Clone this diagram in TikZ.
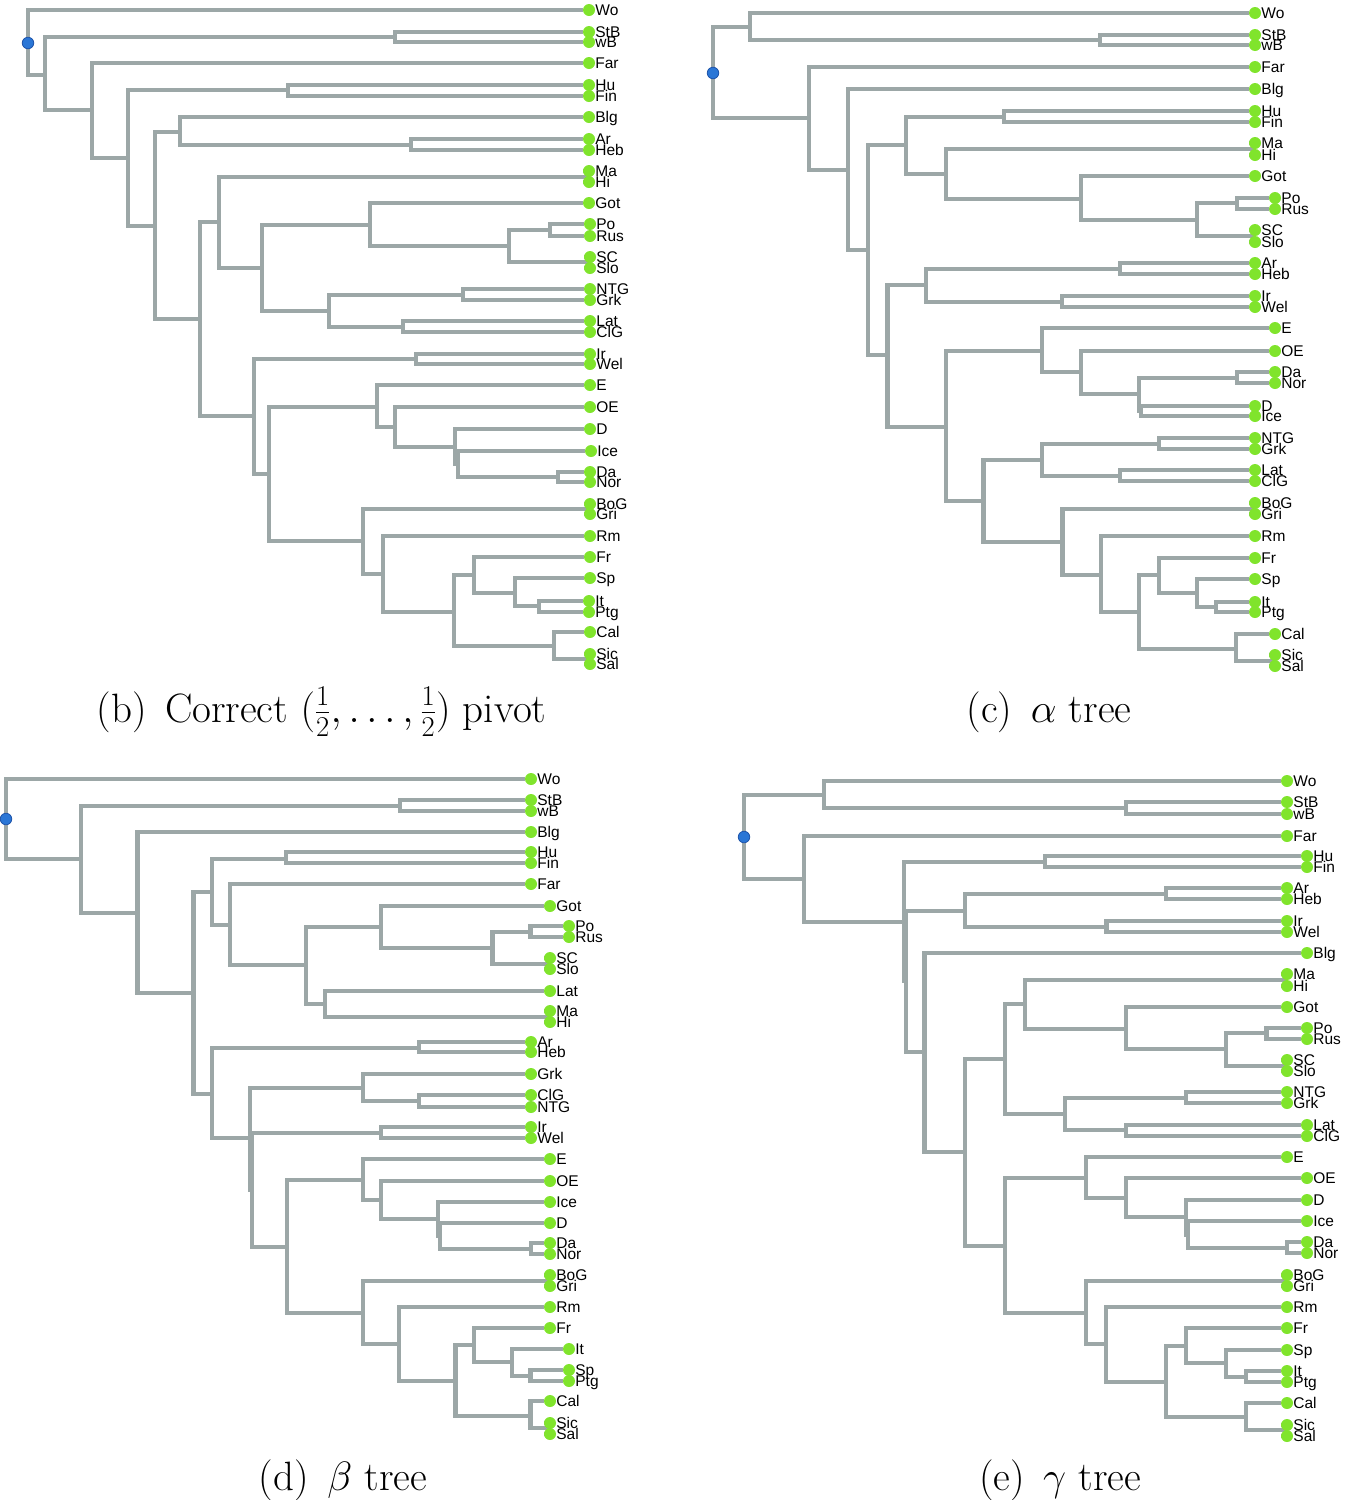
\RequirePackage{fix-cm}
\documentclass[tikz,border=0pt]{standalone}
\usepackage{fontspec}
\newfontfamily\labfont{Liberation Sans}
\pgfdeclarelayer{bg}
\pgfsetlayers{bg,main}
\definecolor{edgegray}{RGB}{156,167,167}
\definecolor{leafgreen}{RGB}{128,228,44}
\definecolor{rootblue}{RGB}{42,118,214}
\definecolor{rootedge}{RGB}{30,84,170}
\tikzset{
 tkedge/.style={draw=edgegray, line width=4.2pt},
 leafdot/.style={circle, fill=leafgreen, inner sep=0pt, minimum size=12pt, label distance=2.6pt},
 rootdot/.style={circle, fill=rootblue, draw=rootedge, line width=0.8pt, inner sep=0pt, minimum size=11.5pt},
 lab/.style={font=\labfont\fontsize{15.5}{15.5}\selectfont, inner sep=0pt, text height=11.1pt, text depth=0pt},
 captext/.style={font=\fontsize{41}{48}\selectfont, anchor=base, inner sep=0pt},
}
\newcommand\tkleaf[4]{\node[leafdot, label={[lab]right:#4}] (#1) at (#2,#3) {};}
\newcommand\tkedges[2]{\foreach \tkc in {#2}{\draw[tkedge] (#1) |- (\tkc);}}
\begin{document}
\begin{tikzpicture}[x=1pt,y=-1pt]
\useasboundingbox (0,0) rectangle (1346,1500);
% ================= tree (b) =================
\tkleaf{b-Wo}{589}{10}{Wo}
\tkleaf{b-StB}{589}{32}{StB}
\tkleaf{b-wB}{589}{42}{wB}
\tkleaf{b-Far}{589}{63}{Far}
\tkleaf{b-Hu}{589}{85}{Hu}
\tkleaf{b-Fin}{589}{96}{Fin}
\tkleaf{b-Blg}{589}{117}{Blg}
\tkleaf{b-Ar}{589}{139}{Ar}
\tkleaf{b-Heb}{589}{150}{Heb}
\tkleaf{b-Ma}{589}{171}{Ma}
\tkleaf{b-Hi}{589}{182}{Hi}
\tkleaf{b-Got}{589}{203}{Got}
\tkleaf{b-Po}{590}{224}{Po}
\tkleaf{b-Rus}{590}{236}{Rus}
\tkleaf{b-SC}{590}{257}{SC}
\tkleaf{b-Slo}{590}{268}{Slo}
\tkleaf{b-NTG}{590}{289}{NTG}
\tkleaf{b-Grk}{590}{300}{Grk}
\tkleaf{b-Lat}{590}{321}{Lat}
\tkleaf{b-ClG}{590}{332}{ClG}
\tkleaf{b-Ir}{590}{354}{Ir}
\tkleaf{b-Wel}{590}{364}{Wel}
\tkleaf{b-E}{590}{385}{E}
\tkleaf{b-OE}{590}{407}{OE}
\tkleaf{b-D}{590}{429}{D}
\tkleaf{b-Ice}{591}{451}{Ice}
\tkleaf{b-Da}{590}{472}{Da}
\tkleaf{b-Nor}{590}{482}{Nor}
\tkleaf{b-BoG}{590}{504}{BoG}
\tkleaf{b-Gri}{590}{514}{Gri}
\tkleaf{b-Rm}{590}{536}{Rm}
\tkleaf{b-Fr}{590}{557}{Fr}
\tkleaf{b-Sp}{590}{578}{Sp}
\tkleaf{b-It}{589}{601}{It}
\tkleaf{b-Ptg}{589}{612}{Ptg}
\tkleaf{b-Cal}{590}{632}{Cal}
\tkleaf{b-Sic}{590}{654}{Sic}
\tkleaf{b-Sal}{590}{664}{Sal}
\node[rootdot] (b-root) at (28,43) {};
\coordinate (b-iA) at (45,75);
\coordinate (b-iStBwB) at (395,37);
\coordinate (b-iB) at (92,110);
\coordinate (b-iC) at (128,158);
\coordinate (b-iHuFin) at (288,90);
\coordinate (b-iD) at (155,226);
\coordinate (b-iE) at (180,132);
\coordinate (b-iArHeb) at (411,145);
\coordinate (b-iF) at (200,319);
\coordinate (b-iG) at (219,222);
\coordinate (b-iMaHi) at (587,177);
\coordinate (b-iI) at (262,268);
\coordinate (b-iJ) at (370,225);
\coordinate (b-iL) at (509,246);
\coordinate (b-iPoRus) at (550,230);
\coordinate (b-iSCSlo) at (588,262);
\coordinate (b-iK) at (329,311);
\coordinate (b-iNTGGrk) at (463,295);
\coordinate (b-iLatClG) at (403,327);
\coordinate (b-iH) at (254,416);
\coordinate (b-iIrWel) at (416,359);
\coordinate (b-iM) at (269,474);
\coordinate (b-iN) at (377,407);
\coordinate (b-iP) at (395,427);
\coordinate (b-iQ1) at (455,447);
\coordinate (b-iQ2) at (458,464);
\coordinate (b-iDaNor) at (558,477);
\coordinate (b-iO) at (363,541);
\coordinate (b-iBoGGri) at (587,509);
\coordinate (b-iR) at (383,574);
\coordinate (b-iS) at (454,612);
\coordinate (b-iT) at (474,575);
\coordinate (b-iV) at (515,593);
\coordinate (b-iItPtg) at (539,606);
\coordinate (b-iU) at (554,646);
\coordinate (b-iSicSal) at (587,659);
% ================= tree (c) =================
\tkleaf{c-Wo}{1255}{13}{Wo}
\tkleaf{c-StB}{1255}{35}{StB}
\tkleaf{c-wB}{1255}{45}{wB}
\tkleaf{c-Far}{1255}{67}{Far}
\tkleaf{c-Blg}{1255}{89}{Blg}
\tkleaf{c-Hu}{1255}{111}{Hu}
\tkleaf{c-Fin}{1255}{122}{Fin}
\tkleaf{c-Ma}{1255}{143}{Ma}
\tkleaf{c-Hi}{1255}{155}{Hi}
\tkleaf{c-Got}{1255}{176}{Got}
\tkleaf{c-Po}{1275}{198}{Po}
\tkleaf{c-Rus}{1275}{209}{Rus}
\tkleaf{c-SC}{1255}{230}{SC}
\tkleaf{c-Slo}{1255}{242}{Slo}
\tkleaf{c-Ar}{1255}{263}{Ar}
\tkleaf{c-Heb}{1255}{274}{Heb}
\tkleaf{c-Ir}{1255}{296}{Ir}
\tkleaf{c-Wel}{1255}{307}{Wel}
\tkleaf{c-E}{1275}{328}{E}
\tkleaf{c-OE}{1275}{351}{OE}
\tkleaf{c-Da}{1275}{372}{Da}
\tkleaf{c-Nor}{1275}{383}{Nor}
\tkleaf{c-D}{1255}{406}{D}
\tkleaf{c-Ice}{1255}{416}{Ice}
\tkleaf{c-NTG}{1255}{438}{NTG}
\tkleaf{c-Grk}{1255}{449}{Grk}
\tkleaf{c-Lat}{1255}{470}{Lat}
\tkleaf{c-ClG}{1255}{481}{ClG}
\tkleaf{c-BoG}{1255}{503}{BoG}
\tkleaf{c-Gri}{1255}{514}{Gri}
\tkleaf{c-Rm}{1255}{536}{Rm}
\tkleaf{c-Fr}{1255}{558}{Fr}
\tkleaf{c-Sp}{1255}{579}{Sp}
\tkleaf{c-It}{1255}{602}{It}
\tkleaf{c-Ptg}{1255}{612}{Ptg}
\tkleaf{c-Cal}{1275}{634}{Cal}
\tkleaf{c-Sic}{1275}{655}{Sic}
\tkleaf{c-Sal}{1275}{666}{Sal}
\node[rootdot] (c-root) at (713,73) {};
\coordinate (c-iA) at (750,27);
\coordinate (c-iStBwB) at (1100,40);
\coordinate (c-iB) at (809,118);
\coordinate (c-iC) at (848,170);
\coordinate (c-iD) at (868,250);
\coordinate (c-iE) at (906,145);
\coordinate (c-iHuFin) at (1004,117);
\coordinate (c-iG) at (946,174);
\coordinate (c-iMaHi) at (1253,149);
\coordinate (c-iH) at (1081,199);
\coordinate (c-iI) at (1197,220);
\coordinate (c-iPoRus) at (1237,203);
\coordinate (c-iSCSlo) at (1253,236);
\coordinate (c-iF) at (887.5,355);
\coordinate (c-iJ) at (926,285);
\coordinate (c-iArHeb) at (1120,269);
\coordinate (c-iIrWel) at (1062,302);
\coordinate (c-iK) at (946,427);
\coordinate (c-iL) at (1042,351);
\coordinate (c-iN) at (1081,372);
\coordinate (c-iO) at (1139,394);
\coordinate (c-iDaNor) at (1237,378);
\coordinate (c-iDIce) at (1141,411);
\coordinate (c-iM) at (983.5,501);
\coordinate (c-iP) at (1042,460);
\coordinate (c-iNTGGrk) at (1158.6,444);
\coordinate (c-iLatClG) at (1120,476);
\coordinate (c-iQ) at (1062.5,542);
\coordinate (c-iBoGGri) at (1253,509);
\coordinate (c-iR) at (1101,575);
\coordinate (c-iS) at (1139,612);
\coordinate (c-iT) at (1158.6,575);
\coordinate (c-iV) at (1197,593);
\coordinate (c-iItPtg) at (1216,607);
\coordinate (c-iU) at (1235.6,649);
\coordinate (c-iSicSal) at (1273,661);
% ================= tree (d) =================
\tkleaf{d-Wo}{531}{779}{Wo}
\tkleaf{d-StB}{531}{800}{StB}
\tkleaf{d-wB}{531}{811}{wB}
\tkleaf{d-Blg}{531}{832}{Blg}
\tkleaf{d-Hu}{531}{852}{Hu}
\tkleaf{d-Fin}{531}{863}{Fin}
\tkleaf{d-Far}{531}{884}{Far}
\tkleaf{d-Got}{550}{906}{Got}
\tkleaf{d-Po}{569}{926}{Po}
\tkleaf{d-Rus}{569}{937}{Rus}
\tkleaf{d-SC}{550}{958}{SC}
\tkleaf{d-Slo}{550}{969}{Slo}
\tkleaf{d-Lat}{550}{991}{Lat}
\tkleaf{d-Ma}{550}{1011}{Ma}
\tkleaf{d-Hi}{550}{1022}{Hi}
\tkleaf{d-Ar}{531}{1042}{Ar}
\tkleaf{d-Heb}{531}{1052}{Heb}
\tkleaf{d-Grk}{531}{1074}{Grk}
\tkleaf{d-ClG}{531}{1095}{ClG}
\tkleaf{d-NTG}{531}{1107}{NTG}
\tkleaf{d-Ir}{531}{1127}{Ir}
\tkleaf{d-Wel}{531}{1138}{Wel}
\tkleaf{d-E}{550}{1159}{E}
\tkleaf{d-OE}{550}{1181}{OE}
\tkleaf{d-Ice}{550}{1202}{Ice}
\tkleaf{d-D}{550}{1223}{D}
\tkleaf{d-Da}{550}{1243}{Da}
\tkleaf{d-Nor}{550}{1254}{Nor}
\tkleaf{d-BoG}{550}{1275}{BoG}
\tkleaf{d-Gri}{550}{1286}{Gri}
\tkleaf{d-Rm}{550}{1307}{Rm}
\tkleaf{d-Fr}{550}{1328}{Fr}
\tkleaf{d-It}{569}{1349}{It}
\tkleaf{d-Sp}{569}{1370}{Sp}
\tkleaf{d-Ptg}{569}{1381}{Ptg}
\tkleaf{d-Cal}{550}{1401}{Cal}
\tkleaf{d-Sic}{550}{1423}{Sic}
\tkleaf{d-Sal}{550}{1434}{Sal}
\node[rootdot] (d-root) at (6,819) {};
\coordinate (d-iA) at (81,859);
\coordinate (d-iStBwB) at (400,806);
\coordinate (d-iB) at (137.5,913);
\coordinate (d-iC) at (193.5,993);
\coordinate (d-iD) at (212,892);
\coordinate (d-iHuFin) at (286,859);
\coordinate (d-iF) at (230,925);
\coordinate (d-iG) at (306,965);
\coordinate (d-iH) at (381,927);
\coordinate (d-iJ) at (492.5,948);
\coordinate (d-iPoRus) at (530.5,932);
\coordinate (d-iSCSlo) at (548,964);
\coordinate (d-iI) at (325,1004);
\coordinate (d-iMaHi) at (548,1017);
\coordinate (d-iE) at (212,1094);
\coordinate (d-iArHeb) at (418.7,1048);
\coordinate (d-iK1) at (249.6,1138);
\coordinate (d-iL) at (362.6,1088);
\coordinate (d-iClGNTG) at (418.7,1101);
\coordinate (d-iK2) at (252,1190);
\coordinate (d-iIrWel) at (381,1133);
\coordinate (d-iM) at (287,1247);
\coordinate (d-iN) at (362.6,1180);
\coordinate (d-iP) at (381,1200);
\coordinate (d-iQ1) at (437.7,1219);
\coordinate (d-iQ2) at (440,1236);
\coordinate (d-iDaNor) at (531,1249);
\coordinate (d-iO) at (362.6,1313);
\coordinate (d-iBoGGri) at (548,1281);
\coordinate (d-iR) at (399,1344);
\coordinate (d-iS) at (455.4,1381);
\coordinate (d-iT) at (474,1345);
\coordinate (d-iV) at (512,1362);
\coordinate (d-iSpPtg) at (530.5,1376);
\coordinate (d-iU) at (530.5,1416);
\coordinate (d-iSicSal) at (548,1428);
% ================= tree (e) =================
\tkleaf{e-Wo}{1287}{781}{Wo}
\tkleaf{e-StB}{1287}{802}{StB}
\tkleaf{e-wB}{1287}{814}{wB}
\tkleaf{e-Far}{1287}{836}{Far}
\tkleaf{e-Hu}{1307}{856}{Hu}
\tkleaf{e-Fin}{1307}{867}{Fin}
\tkleaf{e-Ar}{1287}{888}{Ar}
\tkleaf{e-Heb}{1287}{899}{Heb}
\tkleaf{e-Ir}{1287}{921}{Ir}
\tkleaf{e-Wel}{1287}{932}{Wel}
\tkleaf{e-Blg}{1307}{953}{Blg}
\tkleaf{e-Ma}{1287}{974}{Ma}
\tkleaf{e-Hi}{1287}{986}{Hi}
\tkleaf{e-Got}{1287}{1007}{Got}
\tkleaf{e-Po}{1307}{1028}{Po}
\tkleaf{e-Rus}{1307}{1039}{Rus}
\tkleaf{e-SC}{1287}{1060}{SC}
\tkleaf{e-Slo}{1287}{1071}{Slo}
\tkleaf{e-NTG}{1287}{1092}{NTG}
\tkleaf{e-Grk}{1287}{1103}{Grk}
\tkleaf{e-Lat}{1307}{1125}{Lat}
\tkleaf{e-ClG}{1307}{1136}{ClG}
\tkleaf{e-E}{1287}{1157}{E}
\tkleaf{e-OE}{1307}{1178}{OE}
\tkleaf{e-D}{1307}{1200}{D}
\tkleaf{e-Ice}{1307}{1221}{Ice}
\tkleaf{e-Da}{1307}{1242}{Da}
\tkleaf{e-Nor}{1307}{1253}{Nor}
\tkleaf{e-BoG}{1287}{1275}{BoG}
\tkleaf{e-Gri}{1287}{1286}{Gri}
\tkleaf{e-Rm}{1287}{1307}{Rm}
\tkleaf{e-Fr}{1287}{1328}{Fr}
\tkleaf{e-Sp}{1287}{1350}{Sp}
\tkleaf{e-It}{1287}{1371}{It}
\tkleaf{e-Ptg}{1287}{1382}{Ptg}
\tkleaf{e-Cal}{1287}{1403}{Cal}
\tkleaf{e-Sic}{1287}{1425}{Sic}
\tkleaf{e-Sal}{1287}{1436}{Sal}
\node[rootdot] (e-root) at (744,837) {};
\coordinate (e-iA) at (824,795);
\coordinate (e-iStBwB) at (1126,808);
\coordinate (e-iB) at (804,879);
\coordinate (e-iC1) at (904,922);
\coordinate (e-iHuFin) at (1045,862);
\coordinate (e-iC2) at (906,981);
\coordinate (e-iD) at (964.6,911);
\coordinate (e-iArHeb) at (1166,894);
\coordinate (e-iIrWel) at (1106.5,927);
\coordinate (e-iE) at (924.5,1052);
\coordinate (e-iF) at (964.6,1152);
\coordinate (e-iG) at (1005,1059);
\coordinate (e-iI) at (1024.8,1004);
\coordinate (e-iMaHi) at (1285,980);
\coordinate (e-iK) at (1126,1029);
\coordinate (e-iL) at (1226,1049);
\coordinate (e-iPoRus) at (1266.4,1033);
\coordinate (e-iSCSlo) at (1285,1066);
\coordinate (e-iJ) at (1064.8,1114);
\coordinate (e-iNTGGrk) at (1186,1098);
\coordinate (e-iLatClG) at (1126,1130);
\coordinate (e-iH) at (1005,1246);
\coordinate (e-iM) at (1085.7,1178);
\coordinate (e-iO) at (1126,1198);
\coordinate (e-iP1) at (1186,1217);
\coordinate (e-iP2) at (1188,1235);
\coordinate (e-iDaNor) at (1287,1248);
\coordinate (e-iN) at (1085.7,1313);
\coordinate (e-iBoGGri) at (1285,1281);
\coordinate (e-iQ) at (1106,1344);
\coordinate (e-iR) at (1166,1382);
\coordinate (e-iS) at (1186,1346);
\coordinate (e-iU) at (1226,1363);
\coordinate (e-iItPtg) at (1246,1377);
\coordinate (e-iT) at (1246,1417);
\coordinate (e-iSicSal) at (1285,1430);
% ================= connectors =================
\begin{pgfonlayer}{bg}
\tkedges{b-root}{b-Wo,b-iA}
\tkedges{b-iA}{b-iStBwB,b-iB}
\tkedges{b-iStBwB}{b-StB,b-wB}
\tkedges{b-iB}{b-Far,b-iC}
\tkedges{b-iC}{b-iHuFin,b-iD}
\tkedges{b-iHuFin}{b-Hu,b-Fin}
\tkedges{b-iD}{b-iE,b-iF}
\tkedges{b-iE}{b-Blg,b-iArHeb}
\tkedges{b-iArHeb}{b-Ar,b-Heb}
\tkedges{b-iF}{b-iG,b-iH}
\tkedges{b-iG}{b-iMaHi,b-iI}
\tkedges{b-iMaHi}{b-Ma,b-Hi}
\tkedges{b-iI}{b-iJ,b-iK}
\tkedges{b-iJ}{b-Got,b-iL}
\tkedges{b-iL}{b-iPoRus,b-iSCSlo}
\tkedges{b-iPoRus}{b-Po,b-Rus}
\tkedges{b-iSCSlo}{b-SC,b-Slo}
\tkedges{b-iK}{b-iNTGGrk,b-iLatClG}
\tkedges{b-iNTGGrk}{b-NTG,b-Grk}
\tkedges{b-iLatClG}{b-Lat,b-ClG}
\tkedges{b-iH}{b-iIrWel,b-iM}
\tkedges{b-iIrWel}{b-Ir,b-Wel}
\tkedges{b-iM}{b-iN,b-iO}
\tkedges{b-iN}{b-E,b-iP}
\tkedges{b-iP}{b-OE,b-iQ1}
\tkedges{b-iQ1}{b-D,b-iQ2}
\tkedges{b-iQ2}{b-Ice,b-iDaNor}
\tkedges{b-iDaNor}{b-Da,b-Nor}
\tkedges{b-iO}{b-iBoGGri,b-iR}
\tkedges{b-iBoGGri}{b-BoG,b-Gri}
\tkedges{b-iR}{b-Rm,b-iS}
\tkedges{b-iS}{b-iT,b-iU}
\tkedges{b-iT}{b-Fr,b-iV}
\tkedges{b-iV}{b-Sp,b-iItPtg}
\tkedges{b-iItPtg}{b-It,b-Ptg}
\tkedges{b-iU}{b-Cal,b-iSicSal}
\tkedges{b-iSicSal}{b-Sic,b-Sal}
%
\tkedges{c-root}{c-iA,c-iB}
\tkedges{c-iA}{c-Wo,c-iStBwB}
\tkedges{c-iStBwB}{c-StB,c-wB}
\tkedges{c-iB}{c-Far,c-iC}
\tkedges{c-iC}{c-Blg,c-iD}
\tkedges{c-iD}{c-iE,c-iF}
\tkedges{c-iE}{c-iHuFin,c-iG}
\tkedges{c-iHuFin}{c-Hu,c-Fin}
\tkedges{c-iG}{c-iMaHi,c-iH}
\tkedges{c-iMaHi}{c-Ma,c-Hi}
\tkedges{c-iH}{c-Got,c-iI}
\tkedges{c-iI}{c-iPoRus,c-iSCSlo}
\tkedges{c-iPoRus}{c-Po,c-Rus}
\tkedges{c-iSCSlo}{c-SC,c-Slo}
\tkedges{c-iF}{c-iJ,c-iK}
\tkedges{c-iJ}{c-iArHeb,c-iIrWel}
\tkedges{c-iArHeb}{c-Ar,c-Heb}
\tkedges{c-iIrWel}{c-Ir,c-Wel}
\tkedges{c-iK}{c-iL,c-iM}
\tkedges{c-iL}{c-E,c-iN}
\tkedges{c-iN}{c-OE,c-iO}
\tkedges{c-iO}{c-iDaNor,c-iDIce}
\tkedges{c-iDaNor}{c-Da,c-Nor}
\tkedges{c-iDIce}{c-D,c-Ice}
\tkedges{c-iM}{c-iP,c-iQ}
\tkedges{c-iP}{c-iNTGGrk,c-iLatClG}
\tkedges{c-iNTGGrk}{c-NTG,c-Grk}
\tkedges{c-iLatClG}{c-Lat,c-ClG}
\tkedges{c-iQ}{c-iBoGGri,c-iR}
\tkedges{c-iBoGGri}{c-BoG,c-Gri}
\tkedges{c-iR}{c-Rm,c-iS}
\tkedges{c-iS}{c-iT,c-iU}
\tkedges{c-iT}{c-Fr,c-iV}
\tkedges{c-iV}{c-Sp,c-iItPtg}
\tkedges{c-iItPtg}{c-It,c-Ptg}
\tkedges{c-iU}{c-Cal,c-iSicSal}
\tkedges{c-iSicSal}{c-Sic,c-Sal}
%
\tkedges{d-root}{d-Wo,d-iA}
\tkedges{d-iA}{d-iStBwB,d-iB}
\tkedges{d-iStBwB}{d-StB,d-wB}
\tkedges{d-iB}{d-Blg,d-iC}
\tkedges{d-iC}{d-iD,d-iE}
\tkedges{d-iD}{d-iHuFin,d-iF}
\tkedges{d-iHuFin}{d-Hu,d-Fin}
\tkedges{d-iF}{d-Far,d-iG}
\tkedges{d-iG}{d-iH,d-iI}
\tkedges{d-iH}{d-Got,d-iJ}
\tkedges{d-iJ}{d-iPoRus,d-iSCSlo}
\tkedges{d-iPoRus}{d-Po,d-Rus}
\tkedges{d-iSCSlo}{d-SC,d-Slo}
\tkedges{d-iI}{d-Lat,d-iMaHi}
\tkedges{d-iMaHi}{d-Ma,d-Hi}
\tkedges{d-iE}{d-iArHeb,d-iK1}
\tkedges{d-iArHeb}{d-Ar,d-Heb}
\tkedges{d-iK1}{d-iL,d-iK2}
\tkedges{d-iL}{d-Grk,d-iClGNTG}
\tkedges{d-iClGNTG}{d-ClG,d-NTG}
\tkedges{d-iK2}{d-iIrWel,d-iM}
\tkedges{d-iIrWel}{d-Ir,d-Wel}
\tkedges{d-iM}{d-iN,d-iO}
\tkedges{d-iN}{d-E,d-iP}
\tkedges{d-iP}{d-OE,d-iQ1}
\tkedges{d-iQ1}{d-Ice,d-iQ2}
\tkedges{d-iQ2}{d-D,d-iDaNor}
\tkedges{d-iDaNor}{d-Da,d-Nor}
\tkedges{d-iO}{d-iBoGGri,d-iR}
\tkedges{d-iBoGGri}{d-BoG,d-Gri}
\tkedges{d-iR}{d-Rm,d-iS}
\tkedges{d-iS}{d-iT,d-iU}
\tkedges{d-iT}{d-Fr,d-iV}
\tkedges{d-iV}{d-It,d-iSpPtg}
\tkedges{d-iSpPtg}{d-Sp,d-Ptg}
\tkedges{d-iU}{d-Cal,d-iSicSal}
\tkedges{d-iSicSal}{d-Sic,d-Sal}
%
\tkedges{e-root}{e-iA,e-iB}
\tkedges{e-iA}{e-Wo,e-iStBwB}
\tkedges{e-iStBwB}{e-StB,e-wB}
\tkedges{e-iB}{e-Far,e-iC1}
\tkedges{e-iC1}{e-iHuFin,e-iC2}
\tkedges{e-iHuFin}{e-Hu,e-Fin}
\tkedges{e-iC2}{e-iD,e-iE}
\tkedges{e-iD}{e-iArHeb,e-iIrWel}
\tkedges{e-iArHeb}{e-Ar,e-Heb}
\tkedges{e-iIrWel}{e-Ir,e-Wel}
\tkedges{e-iE}{e-Blg,e-iF}
\tkedges{e-iF}{e-iG,e-iH}
\tkedges{e-iG}{e-iI,e-iJ}
\tkedges{e-iI}{e-iMaHi,e-iK}
\tkedges{e-iMaHi}{e-Ma,e-Hi}
\tkedges{e-iK}{e-Got,e-iL}
\tkedges{e-iL}{e-iPoRus,e-iSCSlo}
\tkedges{e-iPoRus}{e-Po,e-Rus}
\tkedges{e-iSCSlo}{e-SC,e-Slo}
\tkedges{e-iJ}{e-iNTGGrk,e-iLatClG}
\tkedges{e-iNTGGrk}{e-NTG,e-Grk}
\tkedges{e-iLatClG}{e-Lat,e-ClG}
\tkedges{e-iH}{e-iM,e-iN}
\tkedges{e-iM}{e-E,e-iO}
\tkedges{e-iO}{e-OE,e-iP1}
\tkedges{e-iP1}{e-D,e-iP2}
\tkedges{e-iP2}{e-Ice,e-iDaNor}
\tkedges{e-iDaNor}{e-Da,e-Nor}
\tkedges{e-iN}{e-iBoGGri,e-iQ}
\tkedges{e-iBoGGri}{e-BoG,e-Gri}
\tkedges{e-iQ}{e-Rm,e-iR}
\tkedges{e-iR}{e-iS,e-iT}
\tkedges{e-iS}{e-Fr,e-iU}
\tkedges{e-iU}{e-Sp,e-iItPtg}
\tkedges{e-iItPtg}{e-It,e-Ptg}
\tkedges{e-iT}{e-Cal,e-iSicSal}
\tkedges{e-iSicSal}{e-Sic,e-Sal}
\end{pgfonlayer}
% ================= captions =================
\node[captext] (capb) at (321.5,722) {(b)\hskip .45em Correct $(\frac{1}{2},\ldots,\frac{1}{2})$ pivot};
\node[captext] (capc) at (1049,722) {(c)\hskip .45em $\alpha$ tree};
\node[captext] (capd) at (343,1490) {(d)\hskip .45em $\beta$ tree};
\node[captext] (cape) at (1060,1490) {(e)\hskip .45em $\gamma$ tree};
\end{tikzpicture}
\end{document}
